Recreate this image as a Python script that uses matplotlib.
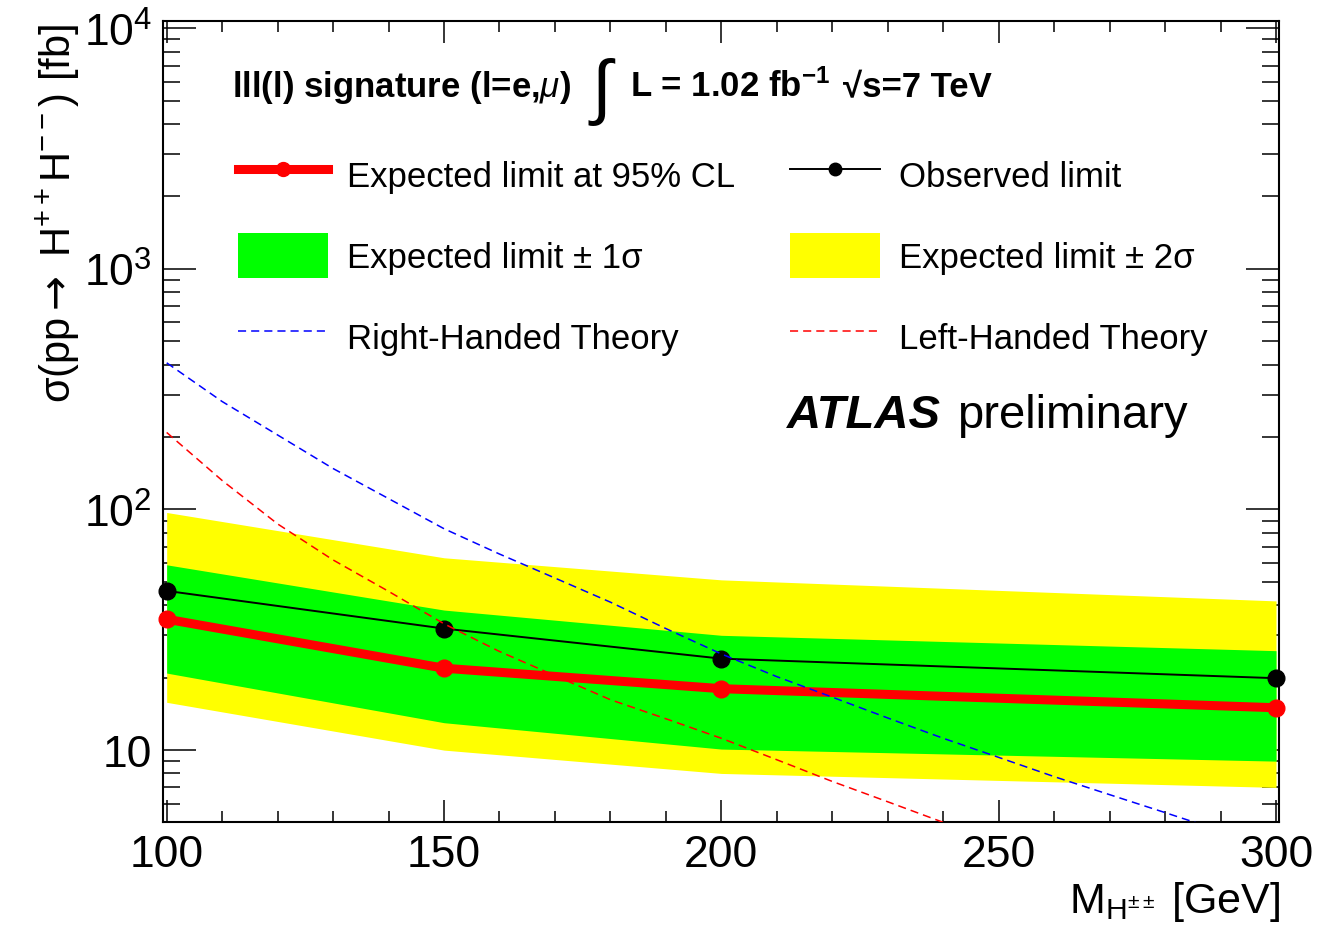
import numpy as np
import matplotlib.pyplot as plt
from matplotlib.ticker import FixedLocator, LogLocator, MultipleLocator, NullFormatter

plt.rcParams.update({
    "font.family": ["Liberation Sans", "DejaVu Sans"],
    "mathtext.fontset": "custom",
    "mathtext.rm": "Liberation Sans",
    "mathtext.it": "Liberation Sans:italic",
    "mathtext.bf": "Liberation Sans:bold",
    "mathtext.sf": "DejaVu Sans",
})

# Limits on sigma(pp -> H++H--) vs mass
mass = [100, 150, 200, 300]
expected = [35.0, 21.9, 18.0, 15.0]
observed = [45.9, 32.0, 24.0, 19.9]
exp_1s_up = [58.9, 38.2, 30.0, 25.9]
exp_1s_dn = [20.9, 13.0, 10.1, 9.0]
exp_2s_up = [97.2, 63.0, 51.0, 41.7]
exp_2s_dn = [15.8, 10.0, 8.0, 7.0]

# Theory curves
rh_mass = [100, 110, 120, 130, 140, 150, 160, 170, 180, 190, 200,
           210, 220, 230, 240, 250, 260, 270, 280, 290, 300]
rh_xsec = [407, 281, 204, 148, 111, 83.2, 65.3, 51.9, 41.2, 32.0, 25.1,
           20.2, 16.6, 13.6, 11.2, 9.33, 7.76, 6.53, 5.50, 4.62, 3.89]
lh_mass = [100, 110, 120, 130, 140, 150, 160, 170, 180, 190, 200,
           210, 220, 230, 240, 250]
lh_xsec = [209, 132, 87.1, 61.7, 45.7, 33.5, 25.7, 20.4, 16.2, 13.5, 11.2,
           9.12, 7.41, 6.10, 5.01, 4.17]

ytick_vals = [10, 100, 1000, 10000]
ytick_labels = ['10', r'$\mathregular{10^{2}}$', r'$\mathregular{10^{3}}$', r'$\mathregular{10^{4}}$']

fig = plt.figure(figsize=(13.39, 9.29), dpi=100)
ax = fig.add_axes([0.1217, 0.1144, 0.8335, 0.8619])
ax.set_yscale('log')
ax.set_axisbelow(True)

h2s = ax.fill_between(mass, exp_2s_dn, exp_2s_up, color='#ffff00', lw=0, zorder=1)
h1s = ax.fill_between(mass, exp_1s_dn, exp_1s_up, color='#00ff00', lw=0, zorder=1.1)
hexp, = ax.plot(mass, expected, color='red', lw=6.5, marker='o', ms=12, zorder=3, clip_on=False)
hobs, = ax.plot(mass, observed, color='black', lw=1.4, marker='o', ms=12, zorder=4, clip_on=False)
hrh, = ax.plot(rh_mass, rh_xsec, color='blue', lw=1.1, ls=(0, (5.3, 3.3)), zorder=5)
hlh, = ax.plot(lh_mass, lh_xsec, color='red', lw=1.1, ls=(0, (5.3, 3.3)), zorder=5)

ax.set_xlim(99.33, 300.54)
ax.set_ylim(5.04, 10**4.03)

ax.xaxis.set_major_locator(MultipleLocator(50))
ax.xaxis.set_minor_locator(MultipleLocator(10))
ax.yaxis.set_major_locator(FixedLocator(ytick_vals))
ax.set_yticklabels(ytick_labels)
ax.yaxis.set_minor_locator(LogLocator(base=10, subs=np.arange(2, 10)))
ax.yaxis.set_minor_formatter(NullFormatter())

ax.tick_params(which='both', direction='in', top=True, right=True, width=1.1, labelsize=32)
ax.tick_params(axis='x', which='major', length=16, pad=9)
ax.tick_params(axis='x', which='minor', length=8)
ax.tick_params(axis='y', which='major', length=24, pad=8)
ax.tick_params(axis='y', which='minor', length=12)
for sp in ax.spines.values():
    sp.set_linewidth(1.5)

fig.text(58 / 1339, 1 - 24 / 929, r'σ(pp$\mathsf{\rightarrow}$ H$^{++}$H$^{--}$) [fb]',
         rotation=90, ha='center', va='top', fontsize=30)
fig.text(1280 / 1339, 1 - 913 / 929, r'M$_{\mathregular{H^{\pm\pm}}}$ [GeV]',
         ha='right', va='baseline', fontsize=31)

# header
ax.text(0.0618, 0.9063, r'lll(l) signature (l=e,$\mu$)', transform=ax.transAxes,
        fontsize=25, fontweight='bold', va='baseline')
ax.text(0.381, 0.913, r'$\int$', transform=ax.transAxes, fontsize=52,
        va='center', family='DejaVu Sans')
ax.text(0.4185, 0.9063, r'L = 1.02 fb$^{\mathbf{-1}}$', transform=ax.transAxes,
        fontsize=25, fontweight='bold', va='baseline')
ax.text(0.609, 0.9063, '√s=7 TeV', transform=ax.transAxes,
        fontsize=25, fontweight='bold', va='baseline')

ax.text(0.559, 0.493, 'ATLAS', transform=ax.transAxes, fontsize=34,
        fontweight='bold', fontstyle='italic', va='baseline')
ax.text(0.7115, 0.493, 'preliminary', transform=ax.transAxes, fontsize=34, va='baseline')

leg = ax.legend([hexp, h1s, hrh, hobs, h2s, hlh],
                ['Expected limit at 95% CL', r'Expected limit ± 1σ', 'Right-Handed Theory',
                 'Observed limit', r'Expected limit ± 2σ', 'Left-Handed Theory'],
                ncol=2, loc='upper left', bbox_to_anchor=(0.0672, 0.8364), frameon=False,
                fontsize=25, handlelength=2.59, handleheight=1.61, handletextpad=0.55,
                columnspacing=1.58, labelspacing=1.04, borderpad=0, borderaxespad=0,
                numpoints=1)
leg.legend_handles[0].set_markersize(10)
leg.legend_handles[3].set_markersize(9)

fig.savefig('out.png', dpi=100)
